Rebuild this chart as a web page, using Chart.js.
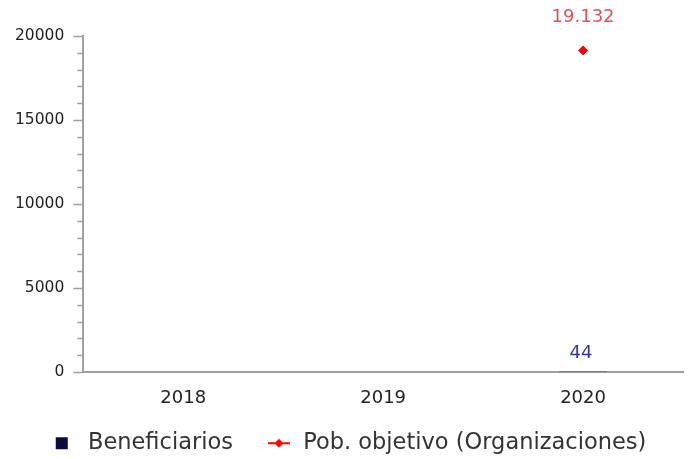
<!DOCTYPE html>
<html>
<head>
<meta charset="utf-8">
<script src="https://cdn.jsdelivr.net/npm/chart.js@4.4.1/dist/chart.umd.min.js"></script>
<style>
  html, body { margin: 0; padding: 0; background: #fff; }
  #wrap { width: 691px; height: 459px; }
</style>
</head>
<body>
<div id="wrap"><canvas id="chart" width="691" height="459"></canvas></div>
<script>
// ─── DATA ───────────────────────────────────────────────
const years = ['2018', '2019', '2020'];
const beneficiarios = [null, null, 44];
const pobObjetivo = [null, null, 19132];
const yTicks = [0, 5000, 10000, 15000, 20000];
const minorTicks = [1000, 2000, 3000, 4000, 6000, 7000, 8000, 9000, 11000, 12000, 13000, 14000, 16000, 17000, 18000, 19000];

const FONT = "'DejaVu Sans', sans-serif";
const AXIS = '#a0a0a0';
const NAVY = '#0b0b3d';
const RED = '#ff0000';

// legend marks drawn on small canvases
function legendMark(kind) {
  const c = document.createElement('canvas');
  c.width = 34; c.height = 14;
  const g = c.getContext('2d');
  if (kind === 'box') {
    g.fillStyle = NAVY;
    g.fillRect(13, 1, 12, 12);
  } else {
    g.strokeStyle = RED;
    g.lineWidth = 2;
    g.beginPath(); g.moveTo(10, 7); g.lineTo(32, 7); g.stroke();
    g.fillStyle = RED;
    g.beginPath(); g.moveTo(21, 2.5); g.lineTo(25.5, 7); g.lineTo(21, 11.5); g.lineTo(16.5, 7); g.closePath(); g.fill();
  }
  return c;
}

// value labels above the marks
const valueLabels = {
  id: 'valueLabels',
  afterDatasetsDraw(chart) {
    const ctx = chart.ctx;
    ctx.save();
    ctx.font = '18px ' + FONT;
    ctx.textAlign = 'center';
    ctx.textBaseline = 'middle';
    chart.data.datasets.forEach((ds, di) => {
      const meta = chart.getDatasetMeta(di);
      meta.data.forEach((el, i) => {
        const v = ds.data[i];
        if (v == null) return;
        const txt = v.toLocaleString('es-CL');
        if (ds.type === 'line') {
          ctx.fillStyle = 'rgba(205, 40, 55, 0.8)';
          ctx.fillText(txt, el.x, el.y - 33);
        } else {
          ctx.fillStyle = '#3434a6';
          ctx.fillText(txt, el.x - 2, el.y - 18);
        }
      });
    });
    ctx.restore();
  }
};

// short minor ticks on the y axis
const minorTickMarks = {
  id: 'minorTickMarks',
  afterDraw(chart) {
    const y = chart.scales.y;
    const ctx = chart.ctx;
    ctx.save();
    ctx.strokeStyle = AXIS;
    ctx.lineWidth = 1.5;
    minorTicks.forEach(v => {
      const py = Math.round(y.getPixelForValue(v)) + 0.5;
      ctx.beginPath();
      ctx.moveTo(y.right - 6, py);
      ctx.lineTo(y.right, py);
      ctx.stroke();
    });
    ctx.restore();
  }
};

new Chart(document.getElementById('chart'), {
  type: 'bar',
  data: {
    labels: years,
    datasets: [
      {
        label: 'Beneficiarios',
        data: beneficiarios,
        backgroundColor: NAVY,
        borderWidth: 0,
        barPercentage: 0.3,
        order: 2,
      },
      {
        label: 'Pob. objetivo (Organizaciones)',
        type: 'line',
        data: pobObjetivo,
        borderColor: RED,
        backgroundColor: RED,
        showLine: false,
        pointStyle: 'rectRot',
        pointRadius: 5,
        pointBorderWidth: 0,
        order: 1,
      },
    ],
  },
  options: {
    responsive: false,
    animation: false,
    devicePixelRatio: 1,
    layout: { padding: { top: 36, left: 6, right: 8, bottom: 0 } },
    plugins: {
      tooltip: { enabled: false },
      legend: {
        position: 'bottom',
        maxHeight: 52,
        labels: {
          font: { family: FONT, size: 22.5 },
          color: '#333',
          usePointStyle: true,
          pointStyleWidth: 34,
          padding: 25,
          generateLabels: (chart) => chart.data.datasets.map((ds, i) => ({
            text: ds.label,
            pointStyle: legendMark(i === 0 ? 'box' : 'line'),
            fontColor: '#333',
            datasetIndex: i,
            lineWidth: 0,
            strokeStyle: 'transparent',
            fillStyle: 'transparent',
          })),
        },
      },
    },
    scales: {
      x: {
        grid: { display: false, drawTicks: false },
        border: { color: AXIS, width: 2 },
        ticks: { font: { family: FONT, size: 18 }, color: '#222', padding: 16 },
        afterFit: (s) => { s.height = 35; },
      },
      y: {
        min: 0,
        max: 20000,
        afterBuildTicks: (s) => { s.ticks = yTicks.map(v => ({ value: v })); },
        grid: { drawOnChartArea: false, tickLength: 10, tickColor: AXIS, tickWidth: 1.5 },
        border: { color: AXIS, width: 2 },
        ticks: { font: { family: FONT, size: 15.5 }, color: '#222', padding: 9, callback: (v) => String(v) },
      },
    },
  },
  plugins: [valueLabels, minorTickMarks],
});
</script>
</body>
</html>
